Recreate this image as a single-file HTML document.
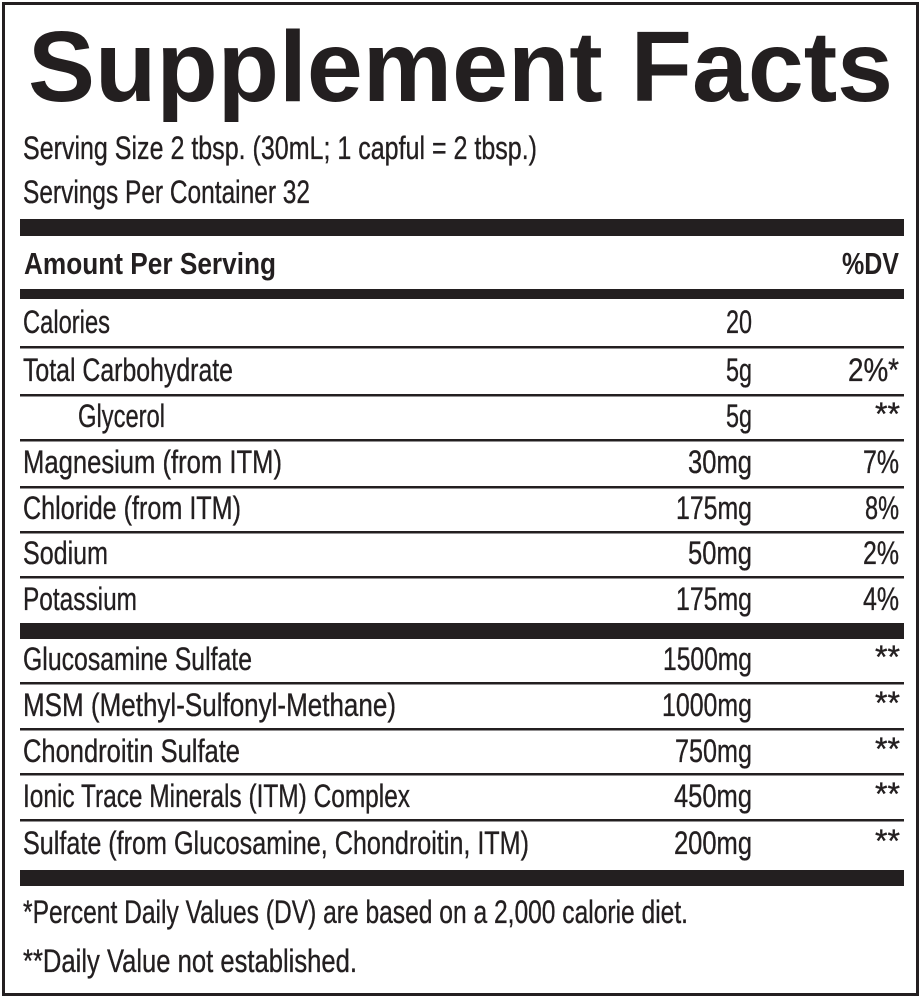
<!DOCTYPE html>
<html>
<head>
<meta charset="utf-8">
<style>
  html, body { margin: 0; padding: 0; background: #ffffff; }
  svg { display: block; }
  text { font-family: "Liberation Sans", sans-serif; fill: #231f20; }
  .b { font-size: 32px; stroke: #231f20; stroke-width: 0.35px; }
  .h { font-size: 31px; font-weight: bold; }
  .t { font-size: 100px; font-weight: bold; }
</style>
</head>
<body>
<svg width="921" height="1000" viewBox="0 0 921 1000" xmlns="http://www.w3.org/2000/svg">
  <rect x="0" y="0" width="921" height="1000" fill="#ffffff"/>
  <rect x="3.5" y="3.5" width="914" height="991" fill="none" stroke="#231f20" stroke-width="3"/>

  <!-- Title -->
  <text class="t" x="28" y="101" textLength="865" lengthAdjust="spacingAndGlyphs">Supplement Facts</text>

  <text class="b" x="23" y="159" textLength="514" lengthAdjust="spacingAndGlyphs">Serving Size 2 tbsp. (30mL; 1 capful = 2 tbsp.)</text>
  <text class="b" x="23" y="203" textLength="287" lengthAdjust="spacingAndGlyphs">Servings Per Container 32</text>

  <!-- Bars -->
  <rect x="20" y="219" width="884" height="17" fill="#231f20"/>
  <text class="h" x="24" y="274" textLength="252" lengthAdjust="spacingAndGlyphs">Amount Per Serving</text>
  <text class="h" x="899" y="274" text-anchor="end" textLength="57" lengthAdjust="spacingAndGlyphs">%DV</text>
  <rect x="20" y="289" width="884" height="10" fill="#231f20"/>

  <!-- thin lines -->
  <g fill="#231f20">
    <rect x="20" y="346" width="884" height="2.5"/>
    <rect x="20" y="394" width="884" height="2.5"/>
    <rect x="20" y="439" width="884" height="2.5"/>
    <rect x="20" y="486" width="884" height="2.5"/>
    <rect x="20" y="531" width="884" height="2.5"/>
    <rect x="20" y="576" width="884" height="2.5"/>
    <rect x="20" y="623" width="884" height="16"/>
    <rect x="20" y="682" width="884" height="2.5"/>
    <rect x="20" y="728" width="884" height="2.5"/>
    <rect x="20" y="773" width="884" height="2.5"/>
    <rect x="20" y="819" width="884" height="2.5"/>
    <rect x="20" y="870" width="884" height="16"/>
  </g>

  <!-- Rows: labels -->
  <text class="b" x="23" y="333" textLength="87" lengthAdjust="spacingAndGlyphs">Calories</text>
  <text class="b" x="23" y="381" textLength="210" lengthAdjust="spacingAndGlyphs">Total Carbohydrate</text>
  <text class="b" x="78" y="427" textLength="87" lengthAdjust="spacingAndGlyphs">Glycerol</text>
  <text class="b" x="23" y="473" textLength="259" lengthAdjust="spacingAndGlyphs">Magnesium (from ITM)</text>
  <text class="b" x="23" y="519" textLength="218" lengthAdjust="spacingAndGlyphs">Chloride (from ITM)</text>
  <text class="b" x="23" y="564" textLength="85" lengthAdjust="spacingAndGlyphs">Sodium</text>
  <text class="b" x="23" y="610" textLength="114" lengthAdjust="spacingAndGlyphs">Potassium</text>
  <text class="b" x="23" y="670" textLength="229" lengthAdjust="spacingAndGlyphs">Glucosamine Sulfate</text>
  <text class="b" x="23" y="716" textLength="373" lengthAdjust="spacingAndGlyphs">MSM (Methyl-Sulfonyl-Methane)</text>
  <text class="b" x="23" y="762" textLength="217" lengthAdjust="spacingAndGlyphs">Chondroitin Sulfate</text>
  <text class="b" x="23" y="807" textLength="387" lengthAdjust="spacingAndGlyphs">Ionic Trace Minerals (ITM) Complex</text>
  <text class="b" x="23" y="854" textLength="506" lengthAdjust="spacingAndGlyphs">Sulfate (from Glucosamine, Chondroitin, ITM)</text>

  <!-- Rows: amounts -->
  <g text-anchor="end">
    <text class="b" x="752" y="333" textLength="26" lengthAdjust="spacingAndGlyphs">20</text>
    <text class="b" x="752" y="381" textLength="26" lengthAdjust="spacingAndGlyphs">5g</text>
    <text class="b" x="752" y="427" textLength="26" lengthAdjust="spacingAndGlyphs">5g</text>
    <text class="b" x="752" y="473" textLength="64" lengthAdjust="spacingAndGlyphs">30mg</text>
    <text class="b" x="752" y="519" textLength="76" lengthAdjust="spacingAndGlyphs">175mg</text>
    <text class="b" x="752" y="564" textLength="64" lengthAdjust="spacingAndGlyphs">50mg</text>
    <text class="b" x="752" y="610" textLength="76" lengthAdjust="spacingAndGlyphs">175mg</text>
    <text class="b" x="752" y="670" textLength="89" lengthAdjust="spacingAndGlyphs">1500mg</text>
    <text class="b" x="752" y="716" textLength="90" lengthAdjust="spacingAndGlyphs">1000mg</text>
    <text class="b" x="752" y="762" textLength="77" lengthAdjust="spacingAndGlyphs">750mg</text>
    <text class="b" x="752" y="807" textLength="78" lengthAdjust="spacingAndGlyphs">450mg</text>
    <text class="b" x="752" y="854" textLength="78" lengthAdjust="spacingAndGlyphs">200mg</text>

    <!-- %DV -->
    <text class="b" x="899" y="381" textLength="51" lengthAdjust="spacingAndGlyphs">2%*</text>
    <text class="b" x="900" y="425" textLength="25" lengthAdjust="spacingAndGlyphs">**</text>
    <text class="b" x="899" y="473" textLength="36" lengthAdjust="spacingAndGlyphs">7%</text>
    <text class="b" x="899" y="519" textLength="34" lengthAdjust="spacingAndGlyphs">8%</text>
    <text class="b" x="899" y="564" textLength="36" lengthAdjust="spacingAndGlyphs">2%</text>
    <text class="b" x="899" y="610" textLength="36" lengthAdjust="spacingAndGlyphs">4%</text>
    <text class="b" x="900" y="668" textLength="25" lengthAdjust="spacingAndGlyphs">**</text>
    <text class="b" x="900" y="714" textLength="25" lengthAdjust="spacingAndGlyphs">**</text>
    <text class="b" x="900" y="760" textLength="25" lengthAdjust="spacingAndGlyphs">**</text>
    <text class="b" x="900" y="805" textLength="25" lengthAdjust="spacingAndGlyphs">**</text>
    <text class="b" x="900" y="852" textLength="25" lengthAdjust="spacingAndGlyphs">**</text>
  </g>

  <!-- Footnotes -->
  <text class="b" x="23" y="923" textLength="665" lengthAdjust="spacingAndGlyphs">*Percent Daily Values (DV) are based on a 2,000 calorie diet.</text>
  <text class="b" x="23" y="972" textLength="334" lengthAdjust="spacingAndGlyphs">**Daily Value not established.</text>
</svg>
</body>
</html>
